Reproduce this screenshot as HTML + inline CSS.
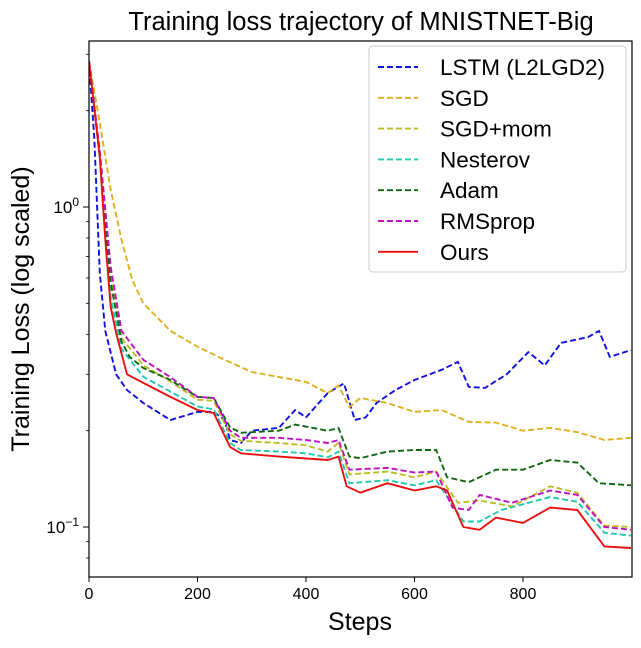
<!DOCTYPE html>
<html><head><meta charset="utf-8"><style>
body{margin:0;background:#fff;}
svg text{font-family:"Liberation Sans",sans-serif;fill:#000;}
</style></head><body>
<svg id="chart" width="641" height="643" xmlns="http://www.w3.org/2000/svg">
<defs><clipPath id="clip"><rect x="89" y="41" width="543" height="536"/></clipPath></defs>
<text x="361" y="30" font-size="25.5" text-anchor="middle">Training loss trajectory of MNISTNET-Big</text>
<text x="360" y="630" font-size="25" text-anchor="middle">Steps</text>
<text transform="translate(29,309) rotate(-90)" font-size="25" text-anchor="middle">Training Loss (log scaled)</text>
<g id="series" clip-path="url(#clip)"></g>
<rect x="89" y="41" width="543" height="536" fill="none" stroke="#000" stroke-width="1.2"/>
<g id="axes"></g>
<g id="legend"></g>
</svg>
<script>
const xTicks = [0, 200, 400, 600, 800];
const names = ["LSTM (L2LGD2)", "SGD", "SGD+mom", "Nesterov", "Adam", "RMSprop", "Ours"];
const colors = ["#1010e0", "#e0b020", "#bcbd22", "#20c8b0", "#106810", "#c010c0", "#e81010"];
const lstmSteps = [0,10,20,30,50,70,100,150,200,230,250,260,280,300,350,380,400,440,470,490,510,530,565,600,650,680,700,730,770,810,840,870,920,940,960,999];
const lstmVals  = [2.86,1.62,0.62,0.41,0.30,0.268,0.244,0.216,0.229,0.229,0.216,0.187,0.183,0.20,0.204,0.232,0.22,0.262,0.281,0.216,0.22,0.244,0.268,0.288,0.31,0.328,0.274,0.272,0.30,0.352,0.32,0.376,0.392,0.41,0.34,0.357];
const sgdSteps = [0,20,40,60,80,100,150,200,250,300,350,400,440,460,480,500,550,600,650,700,750,800,850,900,950,999];
const sgdVals  = [2.86,1.83,1.13,0.79,0.59,0.50,0.41,0.366,0.333,0.305,0.294,0.284,0.262,0.277,0.237,0.253,0.244,0.229,0.232,0.213,0.212,0.20,0.204,0.198,0.187,0.19];
const momSteps = [0,20,40,60,100,150,200,230,260,280,350,400,440,460,480,550,600,640,680,720,780,850,900,950,999];
const momVals  = [2.86,1.45,0.62,0.39,0.32,0.285,0.25,0.248,0.195,0.186,0.183,0.18,0.172,0.183,0.146,0.149,0.143,0.149,0.119,0.121,0.116,0.134,0.128,0.101,0.10];
const nesSteps = [0,20,40,60,100,150,200,230,260,280,350,400,440,460,480,550,600,640,690,720,760,850,900,950,999];
const nesVals  = [2.86,1.43,0.52,0.36,0.295,0.265,0.238,0.233,0.183,0.174,0.172,0.17,0.165,0.172,0.137,0.14,0.135,0.14,0.104,0.104,0.113,0.124,0.12,0.096,0.094];
const adamSteps = [0,20,40,60,75,100,150,200,230,260,280,350,380,440,460,480,500,550,600,640,660,700,750,800,850,900,940,999];
const adamVals  = [2.86,1.45,0.58,0.38,0.34,0.314,0.288,0.255,0.253,0.205,0.197,0.20,0.209,0.20,0.204,0.166,0.164,0.172,0.174,0.174,0.143,0.138,0.151,0.151,0.162,0.159,0.137,0.135];
const rmsSteps = [0,20,40,60,100,150,200,230,260,280,350,400,440,460,480,550,600,640,670,700,720,780,850,900,950,999];
const rmsVals  = [2.86,1.5,0.65,0.41,0.333,0.294,0.255,0.253,0.20,0.19,0.19,0.187,0.183,0.187,0.151,0.153,0.148,0.149,0.115,0.113,0.126,0.119,0.13,0.126,0.10,0.098];
const oursSteps = [0,20,30,40,50,70,100,150,200,230,260,280,350,440,460,475,500,550,600,640,660,690,720,750,800,850,900,950,999];
const oursVals  = [2.86,1.43,0.79,0.487,0.404,0.30,0.282,0.255,0.232,0.227,0.178,0.17,0.166,0.162,0.166,0.134,0.128,0.137,0.13,0.134,0.13,0.10,0.098,0.107,0.103,0.115,0.113,0.087,0.086];

const NS = "http://www.w3.org/2000/svg";
function xScale(s){ return 89 + 0.5425 * s; }
function yScale(v){ return 207 - 320 * Math.log10(v); }
function mk(tag, attrs, parent){ const e=document.createElementNS(NS,tag); for(const k in attrs) e.setAttribute(k, attrs[k]); parent.appendChild(e); return e; }

const axes = document.getElementById("axes");
xTicks.forEach(t => {
  const x = xScale(t);
  const tk = mk("line",{x1:x,x2:x,y1:577,y2:582,stroke:"#000","stroke-width":1},axes);
  
  
  const lb = mk("text",{x:x,y:599,"font-size":16,"text-anchor":"middle"},axes);
  lb.textContent = t;
  
  
});
[[1,"0"],[0.1,"−1"]].forEach(([v,e]) => {
  const y = yScale(v);
  const tk = mk("line",{x1:83,x2:89,y1:y,y2:y,stroke:"#000","stroke-width":1},axes);
  
  
  const lb = mk("text",{x:79,y:y+6,"font-size":17,"text-anchor":"end"},axes);
  lb.innerHTML = '10<tspan dy="-7" font-size="12">'+e+'</tspan>';
  
  
});
[0.08,0.09,0.2,0.3,0.4,0.5,0.6,0.7,0.8,0.9,2,3].forEach(v => {
  const y = yScale(v);
  const tk = mk("line",{x1:86,x2:89,y1:y,y2:y,stroke:"#000","stroke-width":0.8},axes);
  
  
});

const sg = document.getElementById("series");
const all = [[lstmSteps,lstmVals],[sgdSteps,sgdVals],[momSteps,momVals],[nesSteps,nesVals],[adamSteps,adamVals],[rmsSteps,rmsVals],[oursSteps,oursVals]];
const dnames = ["lstm-line","sgd-line","sgd-mom-line","nesterov-line","adam-line","rmsprop-line","ours-line"];
all.forEach((s,i) => {
  const d = s[0].map((st,j) => (j?"L":"M") + xScale(st).toFixed(1) + "," + yScale(s[1][j]).toFixed(1)).join(" ");
  const p = mk("path",{d:d,fill:"none",stroke:colors[i],"stroke-width":1.9,"stroke-linejoin":"round"},sg);
  if(i<6) p.setAttribute("stroke-dasharray","6,3");
  
  
});

const lg = document.getElementById("legend");
const box = mk("rect",{x:369,y:46,width:257,height:226,rx:4,fill:"#fff","fill-opacity":0.85,stroke:"#ccc"},lg);


names.forEach((n,i) => {
  const y = 67 + i*30.8;
  const ln = mk("line",{x1:378,x2:418,y1:y,y2:y,stroke:colors[i],"stroke-width":1.9},lg);
  if(i<6) ln.setAttribute("stroke-dasharray","6,3");
  
  
  const t = mk("text",{x:440,y:y+8,"font-size":22.5},lg);
  t.textContent = n;
  
  
});
</script>
</body></html>
